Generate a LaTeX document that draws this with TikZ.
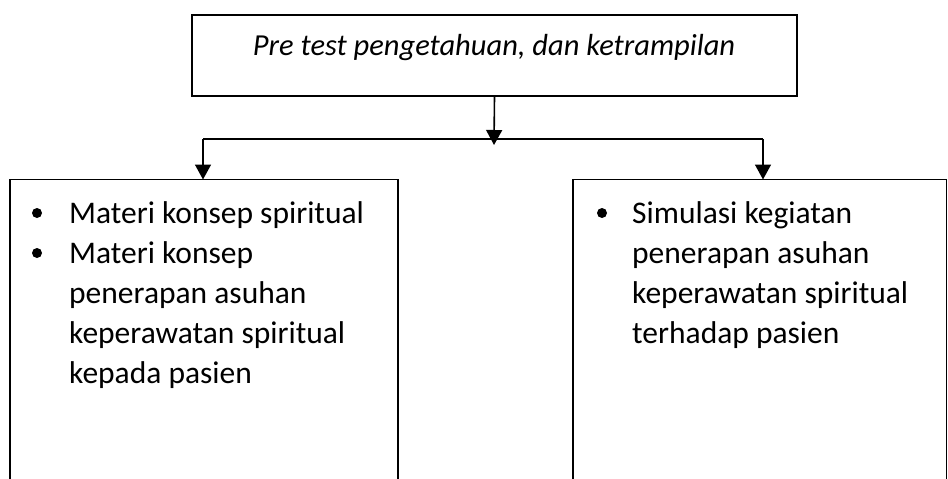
\documentclass[tikz,border=0pt]{standalone}
\usepackage{fontspec}
\setmainfont{Carlito}
\usetikzlibrary{arrows.meta}
\begin{document}
\begin{tikzpicture}[x=1pt,y=-1pt,
  frame/.style={line width=1.6pt,draw=black},
  link/.style={line width=1.6pt,-{Triangle[length=15pt,width=16pt]}},
  plain/.style={line width=1.6pt},
  txt/.style={anchor=base west,inner sep=0pt,font=\fontsize{31.5}{40}\selectfont},
  dot/.style={circle,fill=black,inner sep=0pt,minimum size=10pt}]
\useasboundingbox (0,0) rectangle (948,479);

% top box
\node[frame,minimum width=605pt,minimum height=81pt,inner sep=0pt] (pre) at (494.5,55.5) {};
\node[anchor=base,inner sep=0pt,font=\fontsize{30.5}{40}\selectfont\itshape] (pretext) at (494,55) {Pre test pengetahuan, dan ketrampilan};

% split
\coordinate (join) at (494,139);
\coordinate (jl) at (203,139);
\coordinate (jr) at (763,139);
\coordinate (ltop) at (203,179.5);
\coordinate (rtop) at (763,179.5);
\draw[link] (pre.south) -- ([yshift=-6pt]join);
\draw[plain] (jl) -- (jr);
\draw[link] (jl) -- (ltop);
\draw[link] (jr) -- (rtop);

% left box, open at the bottom
\coordinate (lbl) at (10,482);
\coordinate (lbr) at (398,482);
\draw[frame] (lbl) |- (ltop) -| (lbr);
\node[dot] (l1) at (37,213) {};
\node[dot] (l2) at (37,253) {};
\node[txt] (t1) at (69,223) {Materi konsep spiritual};
\node[txt] (t2) at (69,263) {Materi konsep};
\node[txt] (t3) at (69,303) {penerapan asuhan};
\node[txt] (t4) at (69,343) {keperawatan spiritual};
\node[txt] (t5) at (69,383) {kepada pasien};

% right box, open at the bottom
\coordinate (rbl) at (573,482);
\coordinate (rbr) at (946.5,482);
\draw[frame] (rbl) |- (rtop) -| (rbr);
\node[dot] (r1) at (602,213) {};
\node[txt] (s1) at (632,223) {Simulasi kegiatan};
\node[txt] (s2) at (632,263) {penerapan asuhan};
\node[txt] (s3) at (632,303) {keperawatan spiritual};
\node[txt] (s4) at (632,343) {terhadap pasien};
\end{tikzpicture}
\end{document}
